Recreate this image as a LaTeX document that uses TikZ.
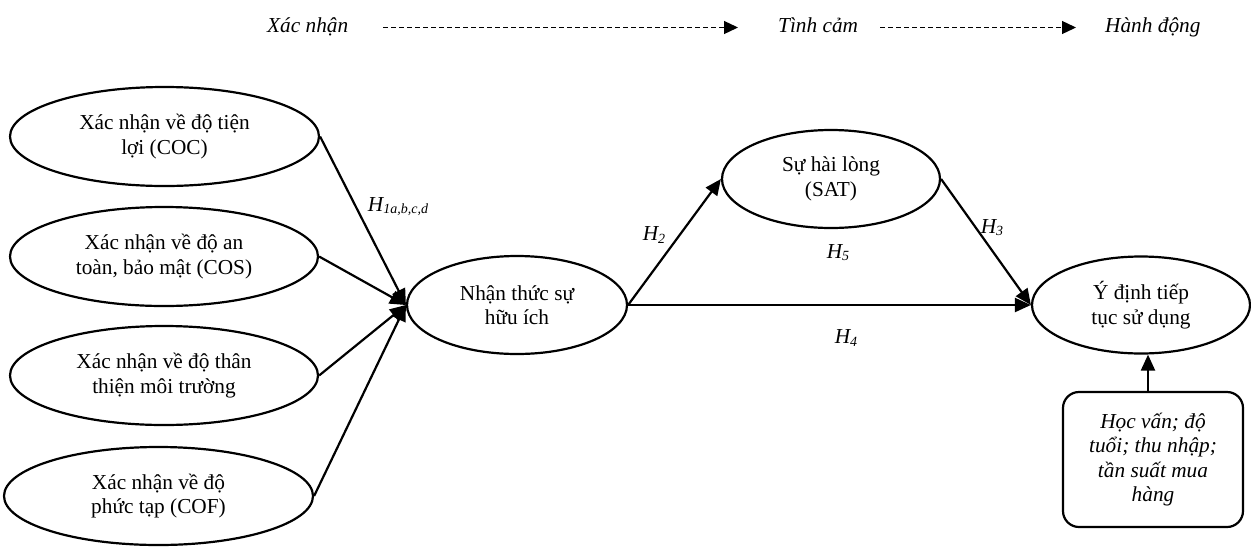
\documentclass[tikz,border=0pt]{standalone}
\usepackage{fontspec}
\setmainfont{Liberation Serif}
\usetikzlibrary{shapes.geometric,arrows.meta}

\begin{document}
\begin{tikzpicture}[x=1pt,y=-1pt,
  every node/.style={font=\fontsize{21.3}{24.5}\selectfont},
  construct/.style={ellipse,draw,line width=2.2pt,inner sep=0pt,align=center},
  ctrlbox/.style={rectangle,draw,line width=2.2pt,rounded corners=16pt,inner sep=0pt,
    align=center,font=\fontsize{21.3}{24.5}\selectfont\itshape},
  phase/.style={font=\fontsize{21.3}{24.5}\selectfont\itshape,anchor=base west,
    inner sep=0pt,text height=15pt,text depth=6pt},
  path/.style={line width=2.2pt,-{Triangle[length=16pt,width=14pt]}},
  flow/.style={line width=1.3pt,dash pattern=on 5pt off 3pt,
    -{Triangle[length=14pt,width=13pt]}},
  hyp/.style={font=\fontsize{21.3}{24.5}\selectfont\itshape,inner sep=0pt}]

\useasboundingbox (0,0) rectangle (1251,547);

% stages of the model
\node[phase] (xn) at (267,32) {Xác nhận};
\node[phase] (tc) at (778,32) {Tình cảm};
\node[phase] (hd) at (1105,32) {Hành động};
\draw[flow] ([xshift=35pt]xn.east) -- ([xshift=-40pt]tc.west);
\draw[flow] ([xshift=22pt]tc.east) -- ([xshift=-29pt]hd.west);

% confirmation constructs
\node[construct,minimum width=309pt,minimum height=99pt] (coc) at (164.5,136.5)
  {Xác nhận về độ tiện\\lợi (COC)};
\node[construct,minimum width=308pt,minimum height=99pt] (cos) at (164,256.5)
  {Xác nhận về độ an\\toàn, bảo mật (COS)};
\node[construct,minimum width=308pt,minimum height=99pt] (env) at (164,375.5)
  {Xác nhận về độ thân\\thiện môi trường};
\node[construct,minimum width=309pt,minimum height=98pt] (cof) at (158.5,496)
  {Xác nhận về độ\\phức tạp (COF)};

% perceived usefulness, satisfaction, intention
\node[construct,minimum width=220pt,minimum height=98pt] (nt) at (517,305)
  {Nhận thức sự\\hữu ích};
\node[construct,minimum width=218pt,minimum height=98pt] (sat) at (831,179)
  {Sự hài lòng\\(SAT)};
\node[construct,minimum width=218pt,minimum height=97pt] (yd) at (1141,305)
  {Ý định tiếp\\tục sử dụng};

% control variables
\node[ctrlbox,minimum width=180pt,minimum height=135pt] (ctl) at (1153,459.5)
  {Học vấn; độ\\tuổi; thu nhập;\\tần suất mua\\hàng};

% hypothesised paths
\draw[path] (coc.east) -- (nt.west);
\draw[path] (cos.east) -- (nt.west);
\draw[path] (env.east) -- (nt.west);
\draw[path] (cof.east) -- (nt.west);
\draw[path] (nt.east) -- (sat.west);
\draw[path] (sat.east) -- (yd.west);
\draw[path] (nt.east) -- (yd.west);
\draw[path] ([xshift=-5pt]ctl.north) -- ([xshift=-5pt]ctl.north |- yd.south);

% path labels
\node[hyp] (h1) at (398,207) {H\raisebox{-0.22ex}{\fontsize{14}{14}\selectfont 1a,b,c,d}};
\node[hyp] (h2) at (654,235) {H\raisebox{-0.22ex}{\fontsize{14}{14}\selectfont 2}};
\node[hyp] (h3) at (992,228) {H\raisebox{-0.22ex}{\fontsize{14}{14}\selectfont 3}};
\node[hyp] (h5) at (838,253) {H\raisebox{-0.22ex}{\fontsize{14}{14}\selectfont 5}};
\node[hyp] (h4) at (846,338) {H\raisebox{-0.22ex}{\fontsize{14}{14}\selectfont 4}};

\end{tikzpicture}
\end{document}
